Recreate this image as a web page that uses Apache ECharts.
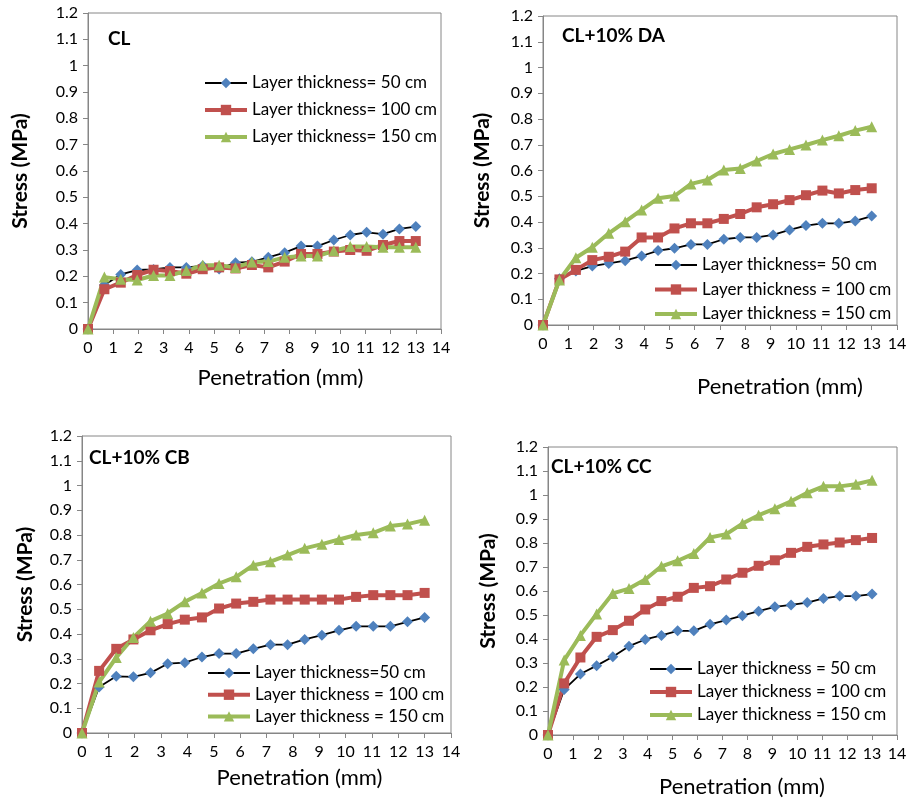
<!DOCTYPE html>
<html lang="en">
<head>
<meta charset="utf-8">
<script src="https://cdn.jsdelivr.net/npm/echarts@6/dist/echarts.min.js"></script>
</head>
<body style="margin:0">
<div id="main" style="width:910px;height:800px"></div>
<script>
// penetration (mm) - same readings for every panel
var penetration = [0, 0.65, 1.3, 1.95, 2.6, 3.25, 3.9, 4.55, 5.2, 5.85, 6.5, 7.15, 7.8, 8.45, 9.1, 9.75, 10.4, 11.05, 11.7, 12.35, 13];

// CL
var cl50  = [0, 0.167, 0.207, 0.224, 0.226, 0.234, 0.234, 0.24, 0.228, 0.252, 0.255, 0.272, 0.29, 0.315, 0.315, 0.338, 0.357, 0.367, 0.36, 0.38, 0.389];
var cl100 = [0, 0.151, 0.176, 0.205, 0.225, 0.22, 0.21, 0.227, 0.234, 0.23, 0.243, 0.234, 0.256, 0.285, 0.285, 0.294, 0.3, 0.297, 0.319, 0.334, 0.334];
var cl150 = [0, 0.197, 0.189, 0.186, 0.203, 0.203, 0.222, 0.242, 0.242, 0.234, 0.254, 0.256, 0.272, 0.277, 0.277, 0.297, 0.313, 0.313, 0.31, 0.31, 0.31];
// CL+10% DA
var da50  = [0, 0.18, 0.21, 0.229, 0.239, 0.25, 0.268, 0.289, 0.298, 0.313, 0.313, 0.333, 0.34, 0.34, 0.35, 0.369, 0.386, 0.395, 0.395, 0.404, 0.423];
var da100 = [0, 0.177, 0.214, 0.252, 0.265, 0.285, 0.34, 0.34, 0.375, 0.395, 0.395, 0.412, 0.431, 0.457, 0.469, 0.485, 0.504, 0.522, 0.511, 0.524, 0.531];
var da150 = [0, 0.175, 0.261, 0.302, 0.356, 0.401, 0.447, 0.492, 0.501, 0.548, 0.563, 0.602, 0.608, 0.637, 0.664, 0.682, 0.699, 0.718, 0.735, 0.755, 0.77];
// CL+10% CB
var cb50  = [0, 0.186, 0.229, 0.227, 0.243, 0.28, 0.284, 0.307, 0.321, 0.321, 0.34, 0.357, 0.357, 0.378, 0.395, 0.415, 0.431, 0.431, 0.431, 0.449, 0.467];
var cb100 = [0, 0.251, 0.34, 0.378, 0.415, 0.44, 0.458, 0.467, 0.503, 0.523, 0.53, 0.539, 0.539, 0.539, 0.539, 0.539, 0.55, 0.557, 0.557, 0.557, 0.566];
var cb150 = [0, 0.206, 0.305, 0.386, 0.452, 0.483, 0.53, 0.566, 0.604, 0.631, 0.678, 0.692, 0.719, 0.746, 0.763, 0.782, 0.8, 0.809, 0.836, 0.844, 0.86];
// CL+10% CC
var cc50  = [0, 0.19, 0.254, 0.289, 0.326, 0.37, 0.398, 0.415, 0.434, 0.434, 0.461, 0.479, 0.497, 0.516, 0.534, 0.542, 0.552, 0.569, 0.579, 0.579, 0.587];
var cc100 = [0, 0.215, 0.323, 0.409, 0.437, 0.476, 0.523, 0.558, 0.576, 0.613, 0.62, 0.648, 0.676, 0.705, 0.728, 0.759, 0.784, 0.794, 0.802, 0.812, 0.821];
var cc150 = [0, 0.312, 0.415, 0.504, 0.59, 0.61, 0.648, 0.703, 0.726, 0.756, 0.823, 0.837, 0.881, 0.916, 0.943, 0.974, 1.009, 1.036, 1.036, 1.045, 1.061];

var titles = ['CL', 'CL+10% DA', 'CL+10% CB', 'CL+10% CC'];
var names = [
    ['Layer thickness= 50 cm', 'Layer thickness= 100 cm', 'Layer thickness= 150 cm'],
    ['Layer thickness= 50 cm', 'Layer thickness = 100 cm', 'Layer thickness = 150 cm'],
    ['Layer thickness=50 cm', 'Layer thickness = 100 cm', 'Layer thickness = 150 cm'],
    ['Layer thickness = 50 cm', 'Layer thickness = 100 cm', 'Layer thickness = 150 cm']
];
var values = [[cl50, cl100, cl150], [da50, da100, da150], [cb50, cb100, cb150], [cc50, cc100, cc150]];

// layout per panel
var grids = [
    {left: 88, top: 13, width: 353, height: 316},
    {left: 543, top: 16, width: 354, height: 309},
    {left: 82, top: 436, width: 369, height: 297},
    {left: 548, top: 447, width: 349, height: 288}
];
var titlePos = [[108, 29], [562, 26], [89, 448], [551, 457]];
var legendPos = [[203, 74, 9], [653, 256, 6.5], [206, 664, 3.7], [648, 660, 5]];
var xNameGap = [38, 51, 34, 41], xNameShift = [32, 120, 66, 39];
var yNameGap = [57, 50, 46, 49];

var font = 'Lato, "Open Sans", sans-serif';
var axisGrey = '#868686';

var styles = [
    {line: '#000000', width: 1.8, color: '#4F81BD', symbol: 'diamond', size: 11},
    {line: '#C0504D', width: 4, color: '#C0504D', symbol: 'rect', size: 10},
    {line: '#9BBB59', width: 4, color: '#9BBB59', symbol: 'triangle', size: 11}
];

function pairs(ys) {
    return ys.map(function (y, i) { return [penetration[i], y]; });
}

var option = {animation: false, title: [], legend: [], grid: [], xAxis: [], yAxis: [], series: []};

for (let p = 0; p < 4; p++) {
    option.grid.push(Object.assign({show: true, borderColor: axisGrey, borderWidth: 1}, grids[p]));
    option.title.push({
        text: titles[p], left: titlePos[p][0], top: titlePos[p][1], padding: 0,
        textStyle: {fontFamily: font, fontWeight: 'bold', fontSize: 19, color: '#000'}
    });
    option.legend.push({
        data: names[p], orient: 'vertical', left: legendPos[p][0], top: legendPos[p][1],
        itemGap: legendPos[p][2], itemWidth: 42, itemHeight: 13, selectedMode: false, padding: 0,
        lineStyle: {width: 'inherit'},
        textStyle: {fontFamily: font, fontSize: 17, color: '#000', lineHeight: 18}
    });
    option.xAxis.push({
        type: 'value', gridIndex: p, min: 0, max: 14, interval: 1,
        name: 'Penetration (mm)', nameLocation: 'middle', nameGap: xNameGap[p],
        nameTextStyle: {fontFamily: font, fontSize: 22, color: '#000', padding: [0, 0, 0, xNameShift[p]]},
        axisLine: {lineStyle: {color: axisGrey}},
        axisTick: {lineStyle: {color: axisGrey}, length: 5},
        axisLabel: {fontFamily: font, fontSize: 16, color: '#000', margin: 11},
        splitLine: {show: false}
    });
    option.yAxis.push({
        type: 'value', gridIndex: p, min: 0, max: 1.2, interval: 0.1,
        name: 'Stress (MPa)', nameLocation: 'middle', nameGap: yNameGap[p],
        nameTextStyle: {fontFamily: font, fontSize: 21, fontWeight: 'bold', color: '#000'},
        axisLine: {show: true, lineStyle: {color: axisGrey}},
        axisTick: {show: true, lineStyle: {color: axisGrey}, length: 5},
        axisLabel: {fontFamily: font, fontSize: 16, color: '#000', margin: 10},
        splitLine: {show: false}
    });
    for (let s = 0; s < 3; s++) {
        var st = styles[s];
        option.series.push({
            name: names[p][s], type: 'line', xAxisIndex: p, yAxisIndex: p,
            data: pairs(values[p][s]),
            symbol: st.symbol, symbolSize: st.size, showAllSymbol: true,
            lineStyle: {color: st.line, width: st.width},
            itemStyle: {color: st.color, borderWidth: 0}
        });
    }
}

var chart = echarts.init(document.getElementById('main'));
chart.setOption(option);
</script>
</body>
</html>
